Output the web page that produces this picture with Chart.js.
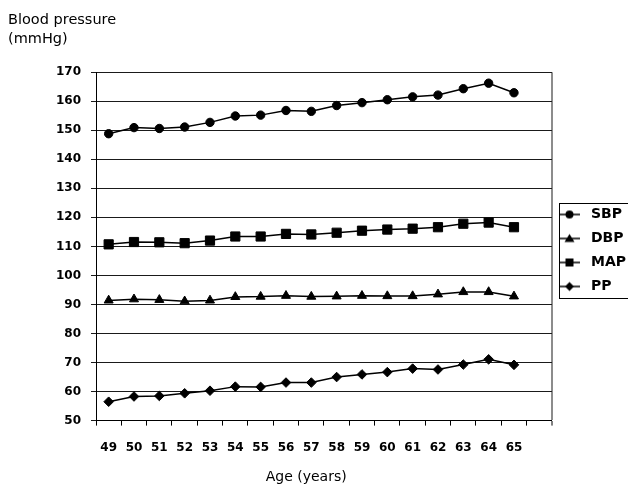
<!DOCTYPE html>
<html>
<head>
<meta charset="utf-8">
<script src="https://cdn.jsdelivr.net/npm/chart.js@4/dist/chart.umd.min.js"></script>
<style>
  html, body { margin: 0; padding: 0; background: #fff; }
  #wrap { width: 628px; height: 485px; }
</style>
</head>
<body>
<div id="wrap"><canvas id="bpChart"></canvas></div>
<script>
// ages on the x axis, the last slot is left empty like in the original
const ages = ["49", "50", "51", "52", "53", "54", "55", "56", "57", "58", "59", "60", "61", "62", "63", "64", "65", ""];
const sbp = [148.8, 150.9, 150.6, 151.1, 152.7, 154.9, 155.2, 156.8, 156.5, 158.5, 159.5, 160.5, 161.5, 162.1, 164.3, 166.2, 162.9];
const dbp = [91.4, 91.8, 91.6, 91.1, 91.4, 92.6, 92.7, 93.0, 92.7, 92.8, 93.0, 92.9, 92.9, 93.5, 94.3, 94.3, 92.8];
const mapValues = [110.7, 111.5, 111.4, 111.1, 112.0, 113.4, 113.4, 114.3, 114.1, 114.7, 115.4, 115.8, 116.1, 116.6, 117.8, 118.2, 116.6];
const pp = [56.5, 58.3, 58.5, 59.4, 60.3, 61.7, 61.6, 63.1, 63.1, 65.0, 65.9, 66.7, 67.9, 67.6, 69.3, 71.1, 69.2];
const seriesNames = ["SBP", "DBP", "MAP", "PP"];
const yMin = 50;
const yMax = 170;
const yStep = 10;

const FONT = "DejaVu Sans";

// little "line + marker" pictures for the legend
function legendIcon(style) {
  const c = document.createElement("canvas");
  c.width = 30;
  c.height = 12;
  const g = c.getContext("2d");
  g.strokeStyle = "#000";
  g.fillStyle = "#000";
  g.lineWidth = 1.5;
  g.beginPath();
  g.moveTo(1, 6);
  g.lineTo(22, 6);
  g.stroke();
  const cx = 11.5;
  g.beginPath();
  if (style === "circle") {
    g.arc(cx, 6, 4, 0, Math.PI * 2);
  } else if (style === "triangle") {
    g.moveTo(cx, 1.5); g.lineTo(cx + 5, 9.5); g.lineTo(cx - 5, 9.5); g.closePath();
  } else if (style === "rect") {
    g.rect(cx - 4, 2, 8, 8);
  } else {
    g.moveTo(cx, 1.5); g.lineTo(cx + 4.5, 6); g.lineTo(cx, 10.5); g.lineTo(cx - 4.5, 6); g.closePath();
  }
  g.fill();
  return c;
}

const markerStyles = ["circle", "triangle", "rect", "rectRot"];
const markerSizes = [4.2, 5.2, 6.5, 4.8];
const icons = markerStyles.map(legendIcon);

function series(name, values, i) {
  return {
    label: name,
    data: values,
    borderColor: "#000",
    backgroundColor: "#000",
    borderWidth: 1.5,
    pointStyle: markerStyles[i],
    pointRadius: markerSizes[i],
    pointBorderWidth: 1,
    pointBackgroundColor: "#000",
    pointBorderColor: "#000",
    tension: 0,
  };
}

// frame round the legend items
const legendFrame = {
  id: "legendFrame",
  afterDraw(chart) {
    const boxes = chart.legend.legendHitBoxes;
    if (!boxes || !boxes.length) return;
    const first = boxes[0];
    const last = boxes[boxes.length - 1];
    const ctx = chart.ctx;
    const left = Math.round(first.left) - 2.5;
    const top = Math.round(first.top) - 4.5;
    const bottom = Math.round(last.top + last.height) + 4.5;
    ctx.save();
    ctx.strokeStyle = "#000";
    ctx.lineWidth = 1;
    ctx.strokeRect(left, top, chart.width + 10 - left, bottom - top);
    ctx.restore();
  },
};

new Chart(document.getElementById("bpChart"), {
  type: "line",
  data: {
    labels: ages,
    datasets: [
      series(seriesNames[0], sbp, 0),
      series(seriesNames[1], dbp, 1),
      series(seriesNames[2], mapValues, 2),
      series(seriesNames[3], pp, 3),
    ],
  },
  options: {
    responsive: true,
    maintainAspectRatio: false,
    animation: false,
    layout: { padding: { left: 8, right: -8, top: 0, bottom: 0 } },
    plugins: {
      title: {
        display: true,
        text: ["Blood pressure", "(mmHg)"],
        align: "start",
        color: "#000",
        font: { family: FONT, size: 14.5, weight: "normal", lineHeight: 1.35 },
        padding: { top: 10, bottom: 23 },
      },
      legend: {
        position: "right",
        title: {
          // empty title, only used to push the items down a bit
          display: true,
          text: " ",
          font: { size: 10, lineHeight: 1.6 },
          padding: 0,
        },
        labels: {
          usePointStyle: true,
          pointStyleWidth: 22,
          color: "#000",
          font: { family: FONT, size: 14, weight: 700 },
          padding: 10,
          generateLabels(chart) {
            const items = Chart.defaults.plugins.legend.labels.generateLabels(chart);
            items.forEach((it, i) => { it.pointStyle = icons[i]; });
            return items;
          },
        },
      },
      tooltip: { enabled: false },
    },
    scales: {
      x: {
        offset: true,
        grid: {
          offset: true,
          drawOnChartArea: true,
          drawTicks: true,
          tickLength: 5,
          // only the closing line on the right is shown inside the plot
          color: (c) => (c.type === "scale" ? "#8c8c8c" : "rgba(0,0,0,0)"),
          lineWidth: (c) => (c.type === "scale" ? 2 : 1),
          tickColor: "#000",
          tickWidth: 1,
        },
        border: { color: "#000", width: 1 },
        ticks: {
          color: "#000",
          font: { family: FONT, size: 12, weight: 700 },
          padding: 15,
          maxRotation: 0,
          autoSkip: false,
        },
        title: {
          display: true,
          text: "Age (years)        ",
          color: "#000",
          font: { family: FONT, size: 14, weight: "normal", lineHeight: 1 },
          padding: { top: 0, bottom: 1 },
        },
      },
      y: {
        min: yMin,
        max: yMax,
        ticks: {
          stepSize: yStep,
          color: "#000",
          font: { family: FONT, size: 12, weight: 700 },
          padding: 10,
        },
        grid: { color: "#1a1a1a", tickLength: 5, lineWidth: 1 },
        border: { color: "#000", width: 1 },
        afterFit(scale) { scale.width = 88; },
      },
    },
  },
  plugins: [legendFrame],
});
</script>
</body>
</html>
